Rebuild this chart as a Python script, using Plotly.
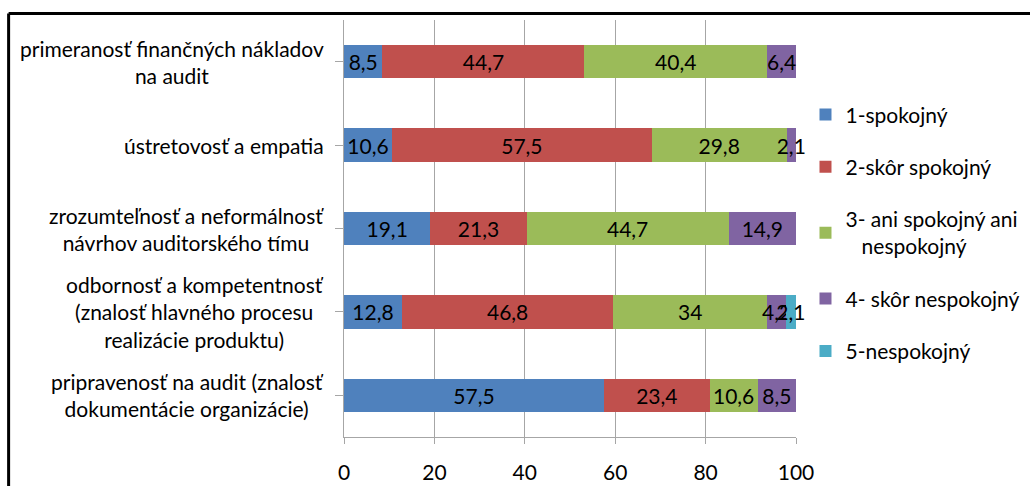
import plotly.graph_objects as go

# Survey categories, listed top to bottom
categories = [
    "primeranosť finančných nákladov<br>na audit",
    "ústretovosť a empatia",
    "zrozumteľnosť a neformálnosť<br>návrhov auditorského tímu",
    "odbornosť a kompetentnosť<br>(znalosť hlavného procesu<br>realizácie produktu)",
    "pripravenosť na audit (znalosť<br>dokumentácie organizácie)",
]

series_names = [
    "1-spokojný",
    "2-skôr spokojný",
    "3- ani spokojný ani<br>   nespokojný",
    "4- skôr nespokojný",
    "5-nespokojný",
]

# Percentages per answer level (same order as categories); None = no answer
spokojny = [8.5, 10.6, 19.1, 12.8, 57.5]
skor_spokojny = [44.7, 57.5, 21.3, 46.8, 23.4]
ani_ani = [40.4, 29.8, 44.7, 34, 10.6]
skor_nespokojny = [6.4, 2.1, 14.9, 4.2, 8.5]
nespokojny = [None, None, None, 2.1, None]

series_values = [spokojny, skor_spokojny, ani_ani, skor_nespokojny, nespokojny]
colors = ["#4F81BD", "#C0504D", "#9BBB59", "#8064A2", "#4BACC6"]

x_ticks = [0, 20, 40, 60, 80, 100]

FONT = "Lato, 'Open Sans', sans-serif"
FS = 21
GRID = "#A6A6A6"


def fmt(v):
    return "" if v is None else f"{v:g}".replace(".", ",")


fig = go.Figure()
for name, vals, col in zip(series_names, series_values, colors):
    fig.add_trace(go.Bar(
        y=list(range(len(categories))),
        x=vals,
        orientation="h",
        name=name,
        marker=dict(color=col, line=dict(width=0)),
        width=0.4,
        text=[fmt(v) for v in vals],
        textposition="inside",
        insidetextanchor="middle",
        textangle=0,
        constraintext="none",
        cliponaxis=False,
        textfont=dict(color="black", size=FS, family=FONT),
        legendgroup=name,
    ))

# Category labels: block right-aligned next to the axis, lines centred
for i, cat in enumerate(categories):
    fig.add_annotation(
        x=0, xref="paper", y=i, yref="y",
        text=cat, showarrow=False,
        xanchor="right", yanchor="middle", align="center",
        xshift=-18,
        font=dict(family=FONT, size=FS, color="black"),
    )

fig.update_layout(
    width=1030, height=486,
    margin=dict(l=344, r=234, t=20, b=49, autoexpand=False),
    paper_bgcolor="white", plot_bgcolor="white",
    barmode="stack",
    bargap=0.6,
    font=dict(family=FONT, size=FS, color="black"),
    showlegend=True,
    legend=dict(
        x=1.021, xanchor="left", y=0.822, yanchor="top",
        traceorder="grouped",
        tracegroupgap=22,
        font=dict(family=FONT, size=FS, color="black"),
        bgcolor="rgba(0,0,0,0)",
        itemclick=False,
    ),
    xaxis=dict(
        # tiny headroom so stacked sums of exactly 100 stay inside the range
        range=[0, 100.0001],
        tickvals=x_ticks,
        showgrid=True, gridcolor=GRID, gridwidth=1,
        showline=True, linecolor=GRID, linewidth=1,
        ticks="outside", ticklen=6, tickcolor=GRID,
        tickfont=dict(family=FONT, size=FS, color="black"),
        ticklabelstandoff=11,
        zeroline=False,
        fixedrange=True,
    ),
    yaxis=dict(
        range=[len(categories) - 0.5, -0.5],
        tickvals=list(range(len(categories))),
        showticklabels=False,
        tickson="boundaries",
        ticks="outside", ticklen=8, tickcolor=GRID,
        showline=True, linecolor=GRID, linewidth=1,
        showgrid=False, zeroline=False,
        fixedrange=True,
    ),
    shapes=[
        # chart frame (top and left edges)
        dict(type="line", xref="paper", yref="paper",
             x0=-0.742, x1=1.6, y0=1.0156, y1=1.0156,
             line=dict(color="black", width=3)),
        dict(type="line", xref="paper", yref="paper",
             x0=-0.742, x1=-0.742, y0=1.0156, y1=-0.2,
             line=dict(color="black", width=3)),
    ],
)

fig.write_html("out.html")
